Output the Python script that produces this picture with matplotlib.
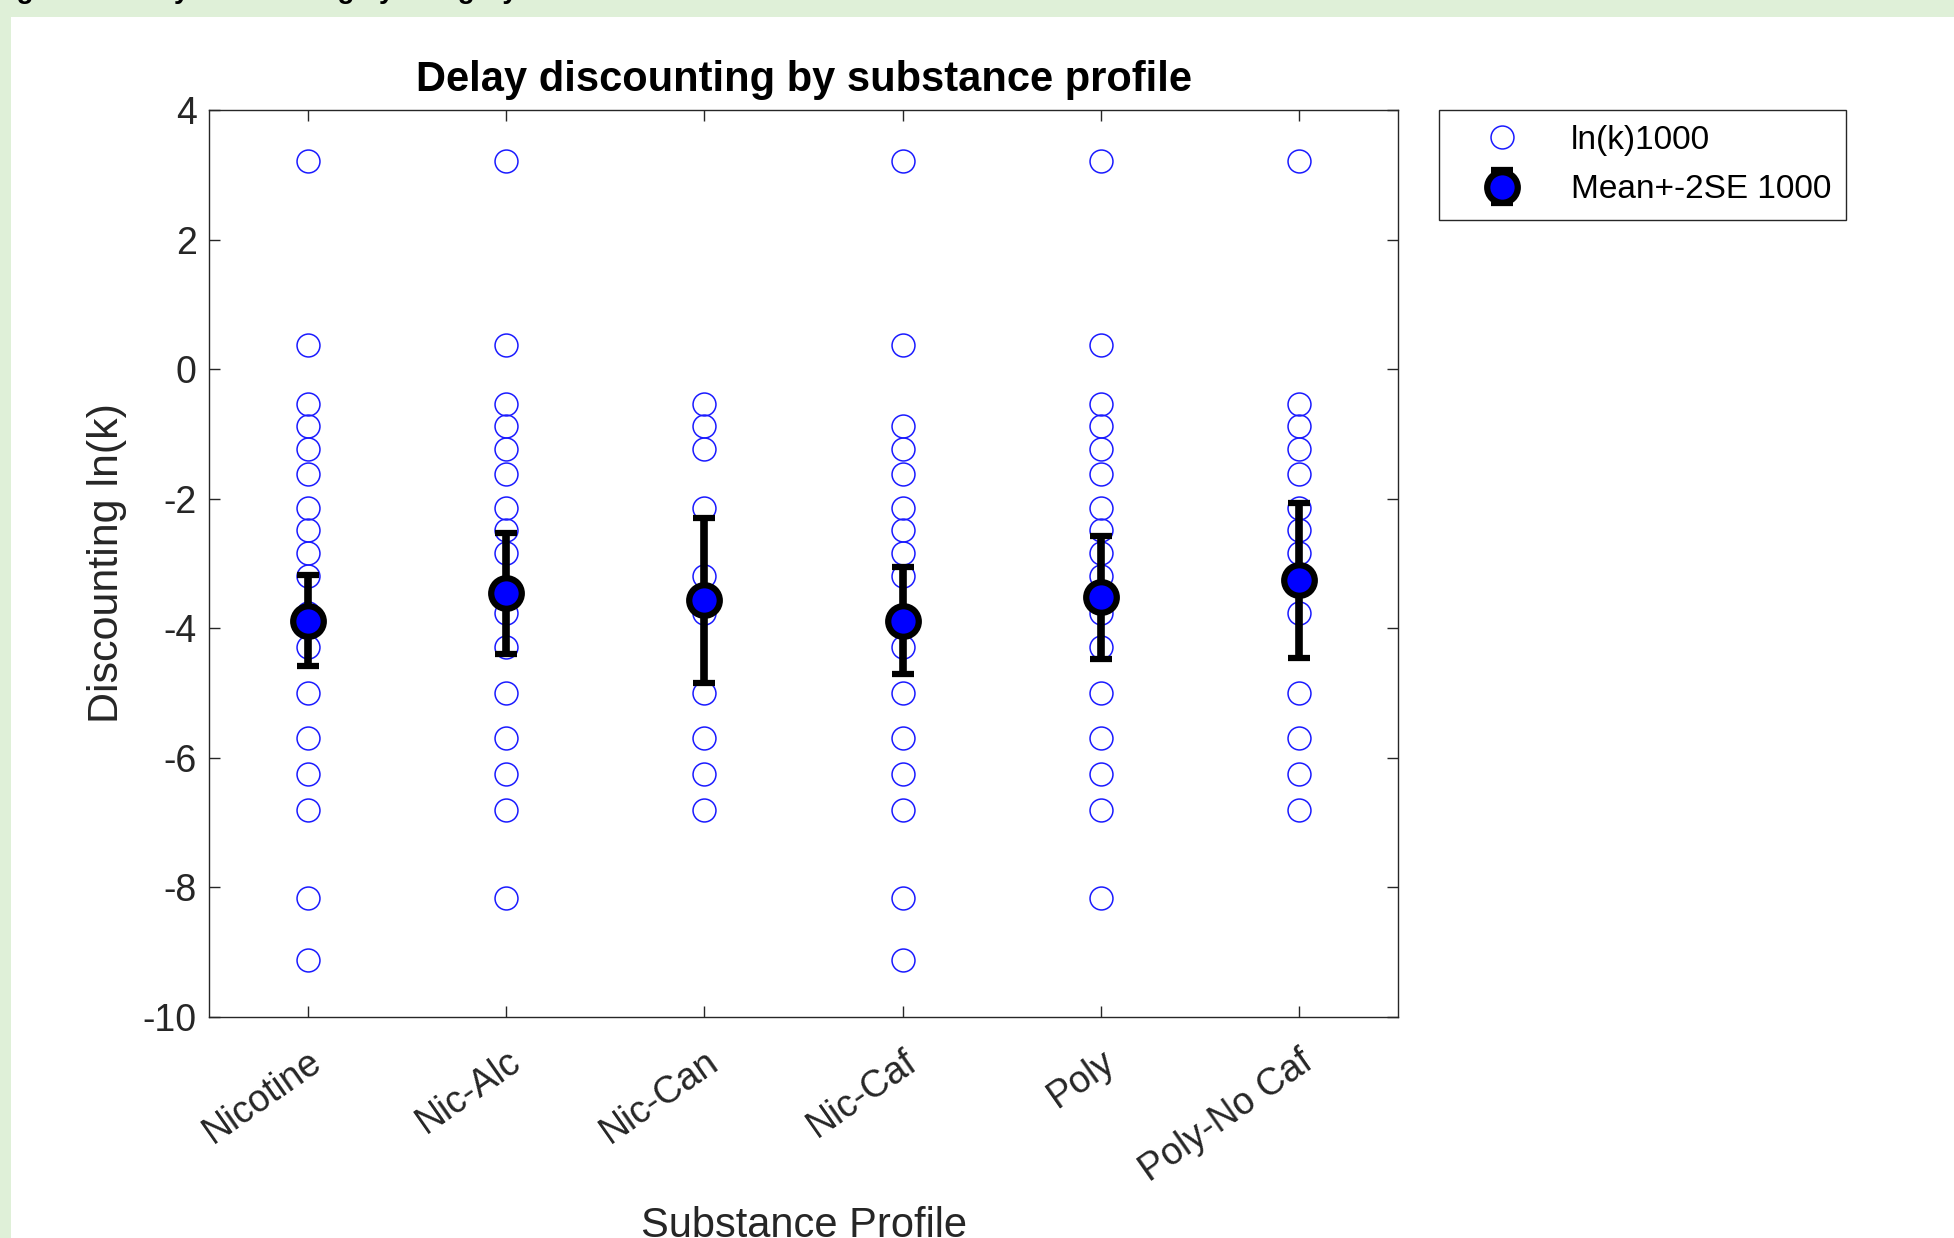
import matplotlib.pyplot as plt
from matplotlib.patches import Rectangle

plt.rcParams['font.family'] = ['Liberation Sans', 'DejaVu Sans']
plt.rcParams['axes.unicode_minus'] = False

# groups on the x axis
profiles = ['Nicotine', 'Nic-Alc', 'Nic-Can', 'Nic-Caf', 'Poly', 'Poly-No Caf']

# individual ln(k) values, one list per group
nicotine_lnk = [3.21, 0.37, -0.54, -0.88, -1.23, -1.62, -2.14, -2.49, -2.83, -3.2,
                -3.77, -4.29, -5.0, -5.69, -6.25, -6.81, -8.17, -9.12]
nic_alc_lnk = [3.21, 0.37, -0.54, -0.88, -1.23, -1.62, -2.14, -2.49, -2.83, -3.77,
               -4.29, -5.0, -5.69, -6.25, -6.81, -8.17]
nic_can_lnk = [-0.54, -0.88, -1.23, -2.14, -3.2, -3.77, -5.0, -5.69, -6.25, -6.81]
nic_caf_lnk = [3.21, 0.37, -0.88, -1.23, -1.62, -2.14, -2.49, -2.83, -3.2, -4.29,
               -5.0, -5.69, -6.25, -6.81, -8.17, -9.12]
poly_lnk = [3.21, 0.37, -0.54, -0.88, -1.23, -1.62, -2.14, -2.49, -2.83, -3.2,
            -3.77, -4.29, -5.0, -5.69, -6.25, -6.81, -8.17]
poly_nocaf_lnk = [3.21, -0.54, -0.88, -1.23, -1.62, -2.14, -2.49, -2.83, -3.2,
                  -3.77, -5.0, -5.69, -6.25, -6.81]

# group means and 2*SE half widths
means = [-3.88, -3.46, -3.57, -3.88, -3.52, -3.26]
two_se = [0.70, 0.93, 1.28, 0.83, 0.95, 1.20]

groups = [nicotine_lnk, nic_alc_lnk, nic_can_lnk, nic_caf_lnk, poly_lnk, poly_nocaf_lnk]

fig = plt.figure(figsize=(19.54, 12.38), dpi=100, facecolor='#dff0d8')
# white figure panel inside the green page
fig.patches.append(Rectangle((11 / 1954, 0), 1, 1 - 17 / 1238, transform=fig.transFigure,
                             facecolor='white', edgecolor='none', zorder=-5))
# caption of the page, cut off by the top edge
fig.text(-0.004, 1.002, 'Figure 2. Delay discounting by category', fontsize=20,
         fontweight='bold', va='baseline', ha='left')

ax = fig.add_axes([0.107, 0.1785, 0.6085, 0.7326])

for i, vals in enumerate(groups):
    ax.plot([i + 1] * len(vals), vals, 'o', ms=16.5, mfc='none', mec='#1a1aff', mew=1.1,
            label='ln(k)1000' if i == 0 else None, zorder=2)

xs = list(range(1, len(profiles) + 1))
ax.errorbar(xs, means, yerr=two_se, fmt='o', ms=22, mfc='blue', mec='black', mew=4.5,
            ecolor='black', elinewidth=5.5, capsize=8, capthick=5.5,
            label='Mean+-2SE 1000', zorder=3)

ax.set_xlim(0.5, 6.5)
ax.set_ylim(-10, 4)
ax.set_yticks(range(-10, 5, 2))
ax.set_xticks(xs)
ax.set_xticklabels(profiles, rotation=35, ha='right', va='top', rotation_mode='anchor')

ax.tick_params(direction='in', top=True, right=True, length=8, width=1,
               labelsize=27, colors='#262626', pad=9)
ax.tick_params(axis='x', pad=19)
for sp in ax.spines.values():
    sp.set_color('#262626')
    sp.set_linewidth(1)

ax.set_title('Delay discounting by substance profile', fontsize=30, fontweight='bold', pad=14)
ax.set_xlabel('Substance Profile', fontsize=30, color='#262626')
ax.xaxis.set_label_coords(0.5, -0.208)
ax.set_ylabel('Discounting ln(k)', fontsize=31, color='#262626', va='center')
ax.yaxis.set_label_coords(-0.086, 0.5)

leg = ax.legend(loc='upper left', bbox_to_anchor=(0.7365, 0.9111),
                bbox_transform=fig.transFigure, borderaxespad=0, fontsize=24,
                fancybox=False, framealpha=1, edgecolor='#262626', handlelength=2.9,
                borderpad=0.45, labelspacing=0.55, handletextpad=0.6)
leg.get_frame().set_linewidth(1)

fig.savefig('out.png', dpi=100, facecolor=fig.get_facecolor())
